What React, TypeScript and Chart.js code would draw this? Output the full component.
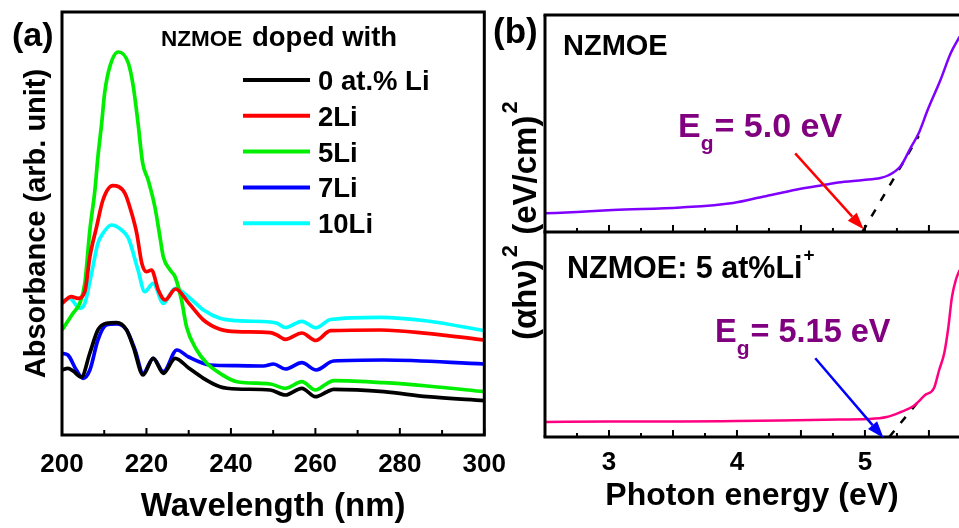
import React, { useEffect, useRef } from 'react';
import { Chart, registerables } from 'chart.js';
Chart.register(...registerables);

const FONT = '"Liberation Sans", Arial, Helvetica, sans-serif';
const bold = (size: number) => `bold ${size}px ${FONT}`;

// ---------- Panel (a): absorbance vs wavelength ----------
const wavelengthTicks = [200, 220, 240, 260, 280, 300];
const seriesNames = ['0 at.% Li', '2Li', '5Li', '7Li', '10Li'];
const seriesColors = ['#000000', '#ff0000', '#00ee00', '#0000ff', '#00ffff'];

const li0 = [[200, 65], [201.4, 66.7], [202.6, 64], [204.6, 58], [206.6, 82], [208.5, 105], [210.5, 111.7], [212.9, 112.3], [215.3, 105], [216.9, 88], [219.2, 60], [221.6, 76.7], [224.0, 61.7], [226.8, 76.7], [230, 67], [233.5, 56.7], [237.4, 48.3], [241.4, 46], [249.3, 45], [252.9, 40], [256.8, 46.7], [260, 38.3], [262.8, 43.3], [264.3, 45.7], [276.2, 43.3], [286.5, 38.3], [300, 34.3]];
const li2 = [[200, 131.7], [202.2, 138.3], [203.8, 136.7], [205.4, 143.3], [206.6, 178.3], [208.2, 208.3], [209.7, 235], [212, 249.3], [214.9, 241.7], [216.5, 221.7], [217.7, 201.7], [218.9, 171.7], [220, 163.3], [221.2, 165], [222.8, 145], [224.4, 135], [226.9, 146], [230, 132], [233.5, 115], [237.4, 105.7], [241.4, 103.3], [249.3, 102.3], [250.9, 100], [252.9, 95.7], [256.8, 102], [260.1, 94.5], [263.6, 104.3], [275.4, 105], [286.5, 101.7], [300, 95]];
const li5 = [[200, 105], [202.6, 121.7], [204.2, 131.7], [205.4, 151.7], [206.6, 205], [207.8, 245], [208.5, 278], [209.4, 312], [210.1, 342], [211.3, 368], [213.3, 383], [215.7, 372], [216.9, 348], [218, 312], [219.1, 272], [220.4, 255], [222, 228], [223.2, 198], [224, 178], [225.6, 165], [226.8, 158], [228.3, 135], [229.5, 108], [231.9, 85], [234.3, 71.7], [237.4, 61.7], [241.4, 53.3], [249.3, 51], [252.9, 46.7], [256.8, 53.3], [260, 45], [262.8, 51.7], [264.3, 54.3], [276.2, 52.3], [286.5, 49], [300, 43.3]];
const li7 = [[200, 81.7], [201.4, 80], [203.4, 65], [205, 56.7], [206.6, 65], [208.5, 95], [210.5, 110], [212.9, 111], [215.3, 105], [217.3, 85], [219.2, 61.7], [221.6, 76.7], [224, 63.3], [227.2, 85], [230, 78], [235.1, 70], [241.4, 69.3], [247.7, 69], [250.1, 71], [252.9, 66], [256.8, 72.3], [260.2, 65], [264.3, 74], [276.2, 75], [300, 71]];
const li10 = [[200, 133.3], [201.8, 136.7], [204.2, 126.7], [205.4, 131.7], [207, 161.7], [208.5, 191.7], [209.7, 201.7], [211.7, 210], [214.1, 205], [215.7, 197], [218, 165], [219.6, 143.3], [221.6, 151.7], [224, 131.7], [226.8, 146.7], [230.3, 136.7], [233.5, 125], [237.4, 116.7], [241.4, 114.3], [249.3, 113], [250.9, 111.7], [252.9, 107.5], [256.8, 113.7], [260.1, 107.2], [263.6, 115.5], [275.4, 117.7], [286.5, 114], [300, 104.3]];
const seriesA = [li0, li2, li5, li7, li10];

// ---------- Panel (b): (alpha h nu)^2 vs photon energy ----------
const energyTicks = [3, 4, 5];
const pureCurve = [[2.5, 18.7], [2.75, 20], [3.03, 22], [3.56, 24.5], [3.97, 29], [4.21, 35.5], [4.47, 42.5], [4.7, 47.5], [4.79, 49.5], [4.99, 52], [5.12, 54], [5.18, 56.5], [5.28, 66], [5.36, 85], [5.42, 98.7], [5.49, 122], [5.59, 152], [5.67, 178.7], [5.74, 195.3]];
const pureTangent = [[4.98, 0], [5.42, 96]];
const pureArrow = [[4.455, 78.7], [4.99, 2.7]];
const dopedCurve = [[2.5, 15], [3, 15.5], [3.56, 15.5], [4, 16], [4.34, 16.5], [4.8, 17.5], [5.02, 18], [5.17, 20], [5.28, 25], [5.38, 31], [5.47, 42], [5.54, 49], [5.58, 67], [5.62, 84], [5.65, 108], [5.68, 140], [5.71, 157], [5.74, 167]];
const dopedTangent = [[5.19, 0], [5.42, 36]];
const dopedArrow = [[4.612, 78.7], [5.146, -1]];

const pts = (arr: number[][]) => arr.map(([x, y]) => ({ x, y }));

function line(ctx: CanvasRenderingContext2D, x1: number, y1: number, x2: number, y2: number) {
  ctx.beginPath();
  ctx.moveTo(x1, y1);
  ctx.lineTo(x2, y2);
  ctx.stroke();
}

function drawArrow(ctx: CanvasRenderingContext2D, x1: number, y1: number, x2: number, y2: number, color: string) {
  const ang = Math.atan2(y2 - y1, x2 - x1);
  const head = 17, half = 6;
  const bx = x2 - head * Math.cos(ang), by = y2 - head * Math.sin(ang);
  ctx.save();
  ctx.strokeStyle = color;
  ctx.fillStyle = color;
  ctx.lineWidth = 2.5;
  line(ctx, x1, y1, bx, by);
  ctx.beginPath();
  ctx.moveTo(x2, y2);
  ctx.lineTo(bx + half * Math.sin(ang), by - half * Math.cos(ang));
  ctx.lineTo(bx - half * Math.sin(ang), by + half * Math.cos(ang));
  ctx.closePath();
  ctx.fill();
  ctx.restore();
}

function drawEg(ctx: CanvasRenderingContext2D, x: number, baseline: number, value: string, size: number) {
  ctx.save();
  ctx.fillStyle = '#800080';
  ctx.textAlign = 'left';
  ctx.textBaseline = 'alphabetic';
  ctx.font = bold(size);
  ctx.fillText('E', x, baseline);
  const wE = ctx.measureText('E').width;
  ctx.font = bold(21);
  ctx.fillText('g', x + wE, baseline + 13);
  const wg = ctx.measureText('g').width;
  ctx.font = bold(size);
  ctx.fillText('= ' + value + ' eV', x + wE + wg + 1, baseline);
  ctx.restore();
}

function makePanelA(canvas: HTMLCanvasElement) {
  const framePlugin = {
    id: 'frameA',
    afterDraw(chart: any) {
      const { ctx, chartArea: ca } = chart;
      const xs = chart.scales.x;
      ctx.save();
      ctx.strokeStyle = '#000';
      ctx.lineWidth = 3;
      ctx.strokeRect(ca.left, ca.top, ca.right - ca.left, ca.bottom - ca.top);
      ctx.lineWidth = 2;
      for (let v = xs.min; v <= xs.max + 1e-6; v += 10) {
        const px = xs.getPixelForValue(v);
        line(ctx, px, ca.bottom, px, ca.bottom - (v % 20 === 0 ? 7 : 5));
      }
      ctx.fillStyle = '#000';
      ctx.textAlign = 'left';
      ctx.textBaseline = 'alphabetic';
      ctx.font = bold(34);
      ctx.fillText('(a)', 12, 46);
      ctx.font = bold(22.5);
      ctx.fillText('NZMOE', 161, 45.5);
      ctx.font = bold(27.5);
      ctx.fillText('doped with', 252, 46);
      chart.data.datasets.forEach((ds: any, i: number) => {
        const y = 80 + i * 35.8;
        ctx.strokeStyle = ds.borderColor;
        ctx.lineWidth = 4;
        line(ctx, 243, y, 310, y);
        ctx.fillStyle = '#000';
        ctx.font = bold(27.5);
        ctx.fillText(ds.label, 318, y + 10);
      });
      ctx.restore();
    },
  };
  return new Chart(canvas, {
    type: 'line',
    data: {
      datasets: seriesA.map((s, i) => ({
        label: seriesNames[i],
        data: pts(s),
        borderColor: seriesColors[i],
        backgroundColor: seriesColors[i],
        borderWidth: 3.7,
        pointRadius: 0,
        cubicInterpolationMode: 'monotone' as const,
        fill: false,
      })),
    },
    options: {
      animation: false,
      responsive: false,
      maintainAspectRatio: false,
      events: [],
      layout: { padding: { top: 12, right: 35, left: 0, bottom: 0 } },
      plugins: { legend: { display: false }, tooltip: { enabled: false } },
      scales: {
        x: {
          type: 'linear',
          min: 200,
          max: 300,
          afterBuildTicks: (s: any) => { s.ticks = wavelengthTicks.map((v) => ({ value: v })); },
          afterFit: (s: any) => { s.height = 93; },
          grid: { display: false, drawTicks: false },
          border: { display: false },
          ticks: { color: '#000', font: { family: FONT, size: 26, weight: 'bold' }, padding: 14, maxRotation: 0, autoSkip: false },
          title: { display: true, text: 'Wavelength (nm)', color: '#000', font: { family: FONT, size: 33, weight: 'bold' }, padding: { top: 0, bottom: 1 } },
        },
        y: {
          type: 'linear',
          min: 0,
          max: 423,
          afterFit: (s: any) => { s.width = 62; },
          grid: { display: false, drawTicks: false },
          border: { display: false },
          ticks: { display: false },
          title: { display: true, text: 'Absorbance (arb. unit)', color: '#000', font: { family: FONT, size: 29, weight: 'bold' }, padding: { top: 20, bottom: 0 } },
        },
      },
    },
    plugins: [framePlugin],
  } as any);
}

function drawEnergyTicks(ctx: CanvasRenderingContext2D, xs: any, yAxis: number) {
  ctx.lineWidth = 2;
  for (let v = 2.5; v <= xs.max + 1e-6; v += 0.25) {
    const px = xs.getPixelForValue(v);
    const major = Math.abs(v * 2 - Math.round(v * 2)) < 1e-6;
    line(ctx, px, yAxis, px, yAxis - (major ? 7 : 4));
  }
}

function makePanelBTop(canvas: HTMLCanvasElement) {
  const framePlugin = {
    id: 'frameBTop',
    afterDraw(chart: any) {
      const { ctx, chartArea: ca } = chart;
      const xs = chart.scales.x, ys = chart.scales.y;
      ctx.save();
      ctx.strokeStyle = '#000';
      ctx.lineWidth = 3;
      line(ctx, ca.left - 1.5, ca.top, ca.right, ca.top);
      line(ctx, ca.left, ca.top, ca.left, ca.bottom);
      line(ctx, ca.left - 1.5, ca.bottom, ca.right, ca.bottom);
      drawEnergyTicks(ctx, xs, ca.bottom);
      ctx.fillStyle = '#000';
      ctx.textAlign = 'left';
      ctx.textBaseline = 'alphabetic';
      ctx.font = bold(35);
      ctx.fillText('(b)', 3, 43);
      ctx.font = bold(29);
      ctx.fillText('NZMOE', 73, 55);
      drawEg(ctx, 188, 137, '5.0', 34);
      drawArrow(ctx, xs.getPixelForValue(pureArrow[0][0]), ys.getPixelForValue(pureArrow[0][1]), xs.getPixelForValue(pureArrow[1][0]), ys.getPixelForValue(pureArrow[1][1]), '#ff0000');
      ctx.restore();
    },
  };
  return new Chart(canvas, {
    type: 'line',
    data: {
      datasets: [
        { label: 'NZMOE', data: pts(pureCurve), borderColor: '#7f00ff', borderWidth: 2.5, pointRadius: 0, cubicInterpolationMode: 'monotone', fill: false },
        { label: 'fit', data: pts(pureTangent), borderColor: '#000', borderWidth: 2.5, borderDash: [8, 10], pointRadius: 0, fill: false },
      ],
    },
    options: {
      animation: false,
      responsive: false,
      maintainAspectRatio: false,
      events: [],
      layout: { padding: { top: 15, right: 0, left: 55, bottom: 296 } },
      plugins: { legend: { display: false }, tooltip: { enabled: false } },
      scales: {
        x: { type: 'linear', display: false, min: 2.5, max: 5.735 },
        y: { type: 'linear', display: false, min: 0, max: 217 },
      },
    },
    plugins: [framePlugin],
  } as any);
}

function makePanelBBottom(canvas: HTMLCanvasElement) {
  const framePlugin = {
    id: 'frameBBottom',
    afterDraw(chart: any) {
      const { ctx, chartArea: ca } = chart;
      const xs = chart.scales.x, ys = chart.scales.y;
      ctx.save();
      ctx.strokeStyle = '#000';
      ctx.lineWidth = 3;
      line(ctx, ca.left, ca.top, ca.left, ca.bottom);
      line(ctx, ca.left - 1.5, ca.bottom, ca.right, ca.bottom);
      drawEnergyTicks(ctx, xs, ca.bottom);
      ctx.fillStyle = '#000';
      ctx.textAlign = 'left';
      ctx.textBaseline = 'alphabetic';
      ctx.font = bold(30.5);
      const t = 'NZMOE: 5 at%Li';
      ctx.fillText(t, 77, 278);
      const w = ctx.measureText(t).width;
      ctx.font = bold(19);
      ctx.fillText('+', 77 + w + 1, 261);
      drawEg(ctx, 225, 342, '5.15', 32.5);
      drawArrow(ctx, xs.getPixelForValue(dopedArrow[0][0]), ys.getPixelForValue(dopedArrow[0][1]), xs.getPixelForValue(dopedArrow[1][0]), ys.getPixelForValue(dopedArrow[1][1]), '#0000ff');
      // rotated y-axis title shared by both (b) panels
      ctx.translate(46, 340);
      ctx.rotate(-Math.PI / 2);
      ctx.fillStyle = '#000';
      let x = 0;
      const parts: [string, number, number][] = [['(\u03b1h\u03bd)', 33, 0], ['2', 22, -19], [' (eV/cm)', 33, 0], ['2', 22, -19]];
      parts.forEach(([s, size, dy]) => {
        ctx.font = bold(size);
        ctx.fillText(s, x, dy);
        x += ctx.measureText(s).width + (dy ? 1 : 2);
      });
      ctx.restore();
    },
  };
  return new Chart(canvas, {
    type: 'line',
    data: {
      datasets: [
        { label: 'NZMOE: 5 at%Li+', data: pts(dopedCurve), borderColor: '#ff0080', borderWidth: 2.5, pointRadius: 0, cubicInterpolationMode: 'monotone', fill: false },
        { label: 'fit', data: pts(dopedTangent), borderColor: '#000', borderWidth: 2.5, borderDash: [8, 10], pointRadius: 0, fill: false },
      ],
    },
    options: {
      animation: false,
      responsive: false,
      maintainAspectRatio: false,
      events: [],
      layout: { padding: { top: 232, right: 0, left: 55, bottom: 0 } },
      plugins: { legend: { display: false }, tooltip: { enabled: false } },
      scales: {
        x: {
          type: 'linear',
          min: 2.5,
          max: 5.735,
          afterBuildTicks: (s: any) => { s.ticks = energyTicks.map((v) => ({ value: v })); },
          afterFit: (s: any) => { s.height = 91; },
          grid: { display: false, drawTicks: false },
          border: { display: false },
          ticks: { color: '#000', font: { family: FONT, size: 26, weight: 'bold' }, padding: 10, maxRotation: 0, autoSkip: false },
          title: { display: true, text: 'Photon energy (eV)', color: '#000', font: { family: FONT, size: 32, weight: 'bold' }, padding: { top: 0, bottom: 13 } },
        },
        y: { type: 'linear', display: false, min: 0, max: 205 },
      },
    },
    plugins: [framePlugin],
  } as any);
}

export default function App() {
  const aRef = useRef<HTMLCanvasElement>(null);
  const bTopRef = useRef<HTMLCanvasElement>(null);
  const bBotRef = useRef<HTMLCanvasElement>(null);

  useEffect(() => {
    const charts = [
      makePanelA(aRef.current as HTMLCanvasElement),
      makePanelBTop(bTopRef.current as HTMLCanvasElement),
      makePanelBBottom(bBotRef.current as HTMLCanvasElement),
    ];
    return () => charts.forEach((c) => c.destroy());
  }, []);

  return (
    <div style={{ position: 'fixed', left: 0, top: 0, width: 959, height: 528, background: '#fff', overflow: 'hidden' }}>
      <canvas ref={aRef} width={520} height={528} style={{ position: 'absolute', left: 0, top: 0 }} />
      <canvas ref={bTopRef} width={469} height={528} style={{ position: 'absolute', left: 490, top: 0 }} />
      <canvas ref={bBotRef} width={469} height={528} style={{ position: 'absolute', left: 490, top: 0 }} />
    </div>
  );
}
